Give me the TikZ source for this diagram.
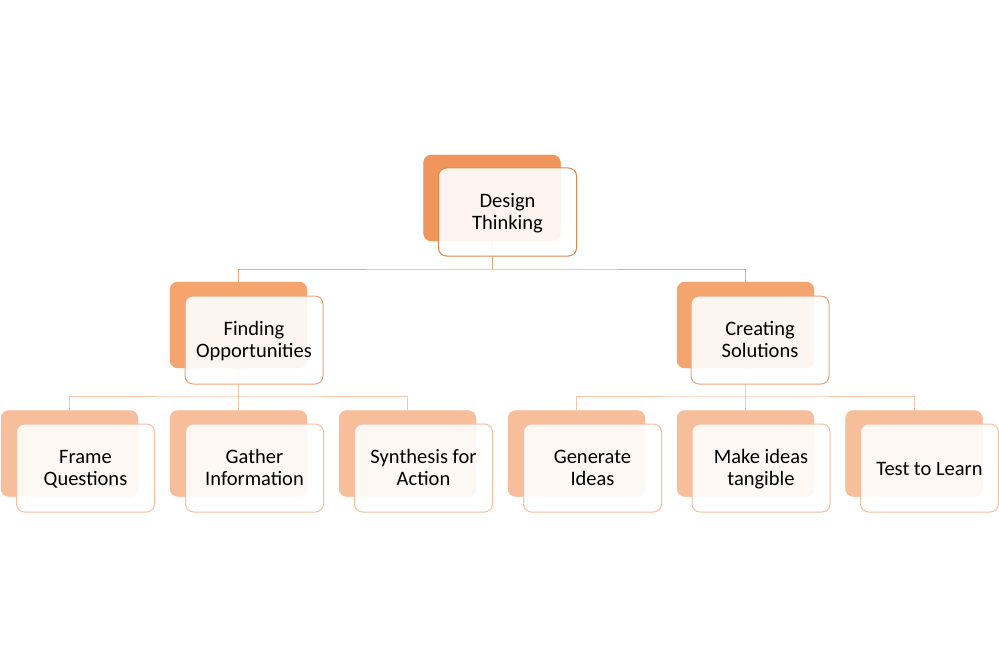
\documentclass[tikz,border=0pt]{standalone}
\usepackage{fontspec}
\setmainfont{Carlito}
\definecolor{bkA}{HTML}{F0965C}
\definecolor{bkB}{HTML}{F4A46E}
\definecolor{bkC}{HTML}{F7BE9C}
\definecolor{brA}{HTML}{D9884F}
\definecolor{brB}{HTML}{EFA47A}
\definecolor{brC}{HTML}{F5BFA0}
\definecolor{lnA}{HTML}{F2A87C}
\definecolor{lnB}{HTML}{F8C6AA}
\tikzset{
  backbox/.style={rectangle, rounded corners=8pt, minimum width=137pt, minimum height=86pt, inner sep=0pt, draw=none},
  frontbox/.style={rectangle, rounded corners=8pt, minimum width=138pt, minimum height=88pt, inner sep=0pt, fill=white, fill opacity=0.9, text opacity=1, line width=1pt, align=center, font=\fontsize{20.5}{22}\selectfont, text=black, execute at begin node=\strut, execute at end node=\strut},
  labeltext/.style={inner sep=0pt, align=center, font=\fontsize{20.5}{22}\selectfont, text=black, execute at begin node=\strut, execute at end node=\strut},
  connA/.style={draw=lnA, line width=1pt},
  connB/.style={draw=lnB, line width=1pt}
}
\begin{document}
\begin{tikzpicture}[x=1pt,y=-1pt]
\useasboundingbox (0,0) rectangle (999,666);
% back boxes
\node[backbox, fill=bkA] (dtb) at (492,198) {};
\node[backbox, fill=bkB] (fob) at (238.5,325) {};
\node[backbox, fill=bkB] (csb) at (745.5,325) {};
\node[backbox, fill=bkC] (fqb) at (69.5,453.5) {};
\node[backbox, fill=bkC] (gib) at (238.5,453.5) {};
\node[backbox, fill=bkC] (sab) at (407.5,453.5) {};
\node[backbox, fill=bkC] (gnb) at (576.5,453.5) {};
\node[backbox, fill=bkC] (mib) at (745.5,453.5) {};
\node[backbox, fill=bkC] (tlb) at (914,453.5) {};
% connectors
\coordinate (j1) at (492,269);
\coordinate (j2) at (238.5,396);
\coordinate (j3) at (745.5,396);
\draw[connA] (dtb.south) -- (j1);
\draw[connA] (fob.north) |- (j1) -| (csb.north);
\draw[connB] (fob.south) -- (j2);
\draw[connB] (fqb.north) |- (j2) -| (sab.north);
\draw[connB] (j2) -- (gib.north);
\draw[connB] (csb.south) -- (j3);
\draw[connB] (gnb.north) |- (j3) -| (tlb.north);
\draw[connB] (j3) -- (mib.north);
% redraw back boxes over connectors
\fill[bkA, rounded corners=8pt] (dtb.south west) rectangle (dtb.north east);
\fill[bkB, rounded corners=8pt] (fob.south west) rectangle (fob.north east);
\fill[bkB, rounded corners=8pt] (csb.south west) rectangle (csb.north east);
\foreach \b in {fqb,gib,sab,gnb,mib,tlb}{
  \fill[bkC, rounded corners=8pt] (\b.south west) rectangle (\b.north east);
}
% front boxes
\node[frontbox, draw=brA] (dt) at (507.5,212) {};
\node[frontbox, draw=brB] (fo) at (254,340) {};
\node[frontbox, draw=brB] (cs) at (760,340) {};
\node[frontbox, draw=brC] (fq) at (85.5,468) {};
\node[frontbox, draw=brC] (gi) at (254.5,468) {};
\node[frontbox, draw=brC] (sa) at (423.5,468) {};
\node[frontbox, draw=brC] (gn) at (592.5,468) {};
\node[frontbox, draw=brC] (mi) at (761,468) {};
\node[frontbox, draw=brC] (tl) at (929.5,468) {};
% labels
\node[labeltext] (dtl) at ([yshift=-3pt]dt.center) {Design\\Thinking};
\node[labeltext] (fol) at ([yshift=-3pt]fo.center) {Finding\\Opportunities};
\node[labeltext] (csl) at ([yshift=-3pt]cs.center) {Creating\\Solutions};
\node[labeltext] (fql) at ([yshift=-3pt]fq.center) {Frame\\Questions};
\node[labeltext] (gil) at ([yshift=-3pt]gi.center) {Gather\\Information};
\node[labeltext] (sal) at ([yshift=-3pt]sa.center) {Synthesis for\\Action};
\node[labeltext] (gnl) at ([yshift=-3pt]gn.center) {Generate\\Ideas};
\node[labeltext] (mil) at ([yshift=-3pt]mi.center) {Make ideas\\tangible};
\node[labeltext] (tll) at ([yshift=-3pt]tl.center) {Test to Learn};
\end{tikzpicture}
\end{document}
